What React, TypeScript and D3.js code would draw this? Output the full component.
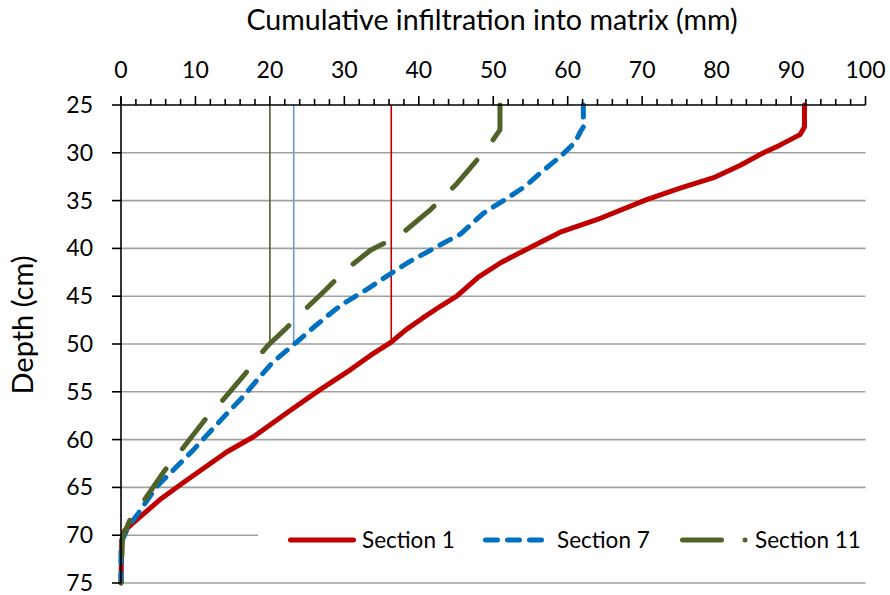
import React from "react";
import * as d3 from "d3";

// Cumulative infiltration (mm) against depth (cm) for three sections
const section1: [number, number][] = [
  [91.8, 25], [91.8, 27.3], [91.2, 28.1], [88.5, 29.2], [86.3, 30], [83.2, 31.3],
  [79.6, 32.6], [75.1, 33.7], [70.6, 34.9], [63.9, 37], [59, 38.3], [54.7, 40],
  [51, 41.5], [48, 43], [45.1, 45], [43, 46], [40.5, 47.3], [38.3, 48.5],
  [36.3, 49.8], [33.5, 51.2], [30.8, 52.7], [26.7, 54.8], [23.2, 56.7], [17.8, 59.7],
  [14.2, 61.3], [11.1, 63], [8.2, 64.6], [5.2, 66.3], [2.1, 68.4], [0.5, 69.5],
  [0.1, 70.5], [0, 75],
];
const section7: [number, number][] = [
  [62.1, 25], [62.1, 27.3], [61.7, 27.8], [61, 28.9], [59, 30.4], [56.5, 32],
  [54.3, 33.5], [51.6, 34.9], [48.7, 36.3], [45.6, 38.5], [42, 40], [38.5, 41.5],
  [35.5, 43], [32.8, 44.4], [29.8, 45.8], [28.3, 46.7], [25.8, 48.3], [23.6, 49.8],
  [20.4, 51.9], [18.7, 53.4], [16.4, 55.5], [14.2, 57.3], [11.7, 59.4], [9.7, 61.1],
  [7, 63.2], [4.8, 64.9], [2.6, 67.4], [1, 69.1], [0, 70.8], [0, 75],
];
const section11: [number, number][] = [
  [50.9, 25], [50.9, 27.6], [49.3, 29.4], [46.9, 31.6], [44.9, 33.4], [41.5, 36],
  [37.5, 38.6], [33.5, 40.2], [30.1, 42.3], [27.4, 44.4], [24.7, 46.4], [22, 48.5],
  [19.8, 50.1], [18.5, 51.3], [16.7, 53.1], [13.3, 56.2], [11.3, 57.9], [7.9, 61.3],
  [5.9, 63.2], [2.8, 66.7], [1.2, 68.4], [0.2, 70.2], [0, 75],
];

// Infiltration reached at 50 cm depth for each section
const markerValues = [36.3, 23.2, 20];
const markerDepthTop = 25;
const markerDepthBottom = 50;

const seriesNames = ["Section 1", "Section 7", "Section 11"];
const xTicks = [0, 10, 20, 30, 40, 50, 60, 70, 80, 90, 100];
const xMinorTicks = d3.range(0, 101, 2);
const yTicks = [25, 30, 35, 40, 45, 50, 55, 60, 65, 70, 75];

const colors = ["#C00000", "#0070C0", "#4F6228"];
const markerColors = ["#C00000", "#6A9BD8", "#4F6228"];
const dashes = ["none", "12 10", "37 26"];
const legendDashes = ["none", "12 10", "39 23.5 0.01 100"];
const FONT = "Lato, 'Open Sans', sans-serif";

export default function App() {
  const W = 890;
  const H = 595;
  const left = 121;
  const right = 865.5;
  const top = 105;
  const bottom = 583;

  const x = d3.scaleLinear().domain([0, 100]).range([left, right]);
  const y = d3.scaleLinear().domain([25, 75]).range([top, bottom]);

  const line = d3
    .line<[number, number]>()
    .x((d) => x(d[0]))
    .y((d) => y(d[1]));

  const series = [section1, section7, section11];

  const legendY = 540;
  const legendItems = [
    { x0: 290.5, x1: 353.5, tx: 362 },
    { x0: 485.5, x1: 545, tx: 557 },
    { x0: 682.5, x1: 748, tx: 755 },
  ];

  return (
    <svg
      width={W}
      height={H}
      style={{ position: "absolute", left: 0, top: 0, background: "#fff" }}
      fontFamily={FONT}
    >
      <rect x={0} y={0} width={W} height={H} fill="#fff" />

      {/* horizontal gridlines */}
      {yTicks
        .filter((t) => t !== 25)
        .map((t) => (
          <line
            key={"g" + t}
            x1={left}
            x2={right}
            y1={y(t)}
            y2={y(t)}
            stroke="#A0A0A0"
            strokeWidth={1.6}
          />
        ))}

      {/* reference lines at 50 cm depth */}
      {markerValues.map((v, i) => (
        <line
          key={"m" + i}
          x1={x(v)}
          x2={x(v)}
          y1={y(markerDepthTop)}
          y2={y(markerDepthBottom)}
          stroke={markerColors[i]}
          strokeWidth={1.6}
        />
      ))}

      {/* legend box covers the grid behind it */}
      <rect x={258} y={518} width={612} height={44} fill="#fff" />

      {/* series */}
      {series.map((s, i) => (
        <path
          key={"s" + i}
          d={line(s) || ""}
          fill="none"
          stroke={colors[i]}
          strokeWidth={5}
          strokeLinecap="round"
          strokeLinejoin="round"
          strokeDasharray={dashes[i]}
        />
      ))}

      {/* top axis */}
      <line x1={left} x2={right} y1={top} y2={top} stroke="#000" strokeWidth={1.6} />
      {xMinorTicks.map((t) => (
        <line
          key={"mn" + t}
          x1={x(t)}
          x2={x(t)}
          y1={top}
          y2={top - (t % 10 === 0 ? 9 : 6)}
          stroke="#000"
          strokeWidth={1.6}
        />
      ))}
      {xTicks.map((t) => (
        <text
          key={"xt" + t}
          x={x(t)}
          y={78}
          textAnchor="middle"
          fontSize={23}
          fill="#000"
        >
          {t}
        </text>
      ))}
      <text x={492} y={30} textAnchor="middle" fontSize={28.6} fill="#000">
        Cumulative infiltration into matrix (mm)
      </text>

      {/* left axis */}
      <line x1={left} x2={left} y1={top - 8} y2={bottom} stroke="#000" strokeWidth={1.6} />
      {yTicks.map((t) => (
        <line
          key={"yt" + t}
          x1={left - 9}
          x2={left}
          y1={y(t)}
          y2={y(t)}
          stroke="#000"
          strokeWidth={1.6}
        />
      ))}
      {yTicks.map((t) => (
        <text
          key={"yl" + t}
          x={93}
          y={y(t) + 8}
          textAnchor="end"
          fontSize={23}
          fill="#000"
        >
          {t}
        </text>
      ))}
      <text
        transform="translate(33,325) rotate(-90)"
        textAnchor="middle"
        fontSize={29}
        fill="#000"
      >
        Depth (cm)
      </text>

      {/* legend */}
      {legendItems.map((it, i) => (
        <g key={"lg" + i}>
          <line
            x1={it.x0}
            x2={it.x1}
            y1={legendY}
            y2={legendY}
            stroke={colors[i]}
            strokeWidth={5}
            strokeLinecap="round"
            strokeDasharray={legendDashes[i]}
          />
          <text x={it.tx} y={legendY + 8} fontSize={22.5} fill="#000">
            {seriesNames[i]}
          </text>
        </g>
      ))}
    </svg>
  );
}
